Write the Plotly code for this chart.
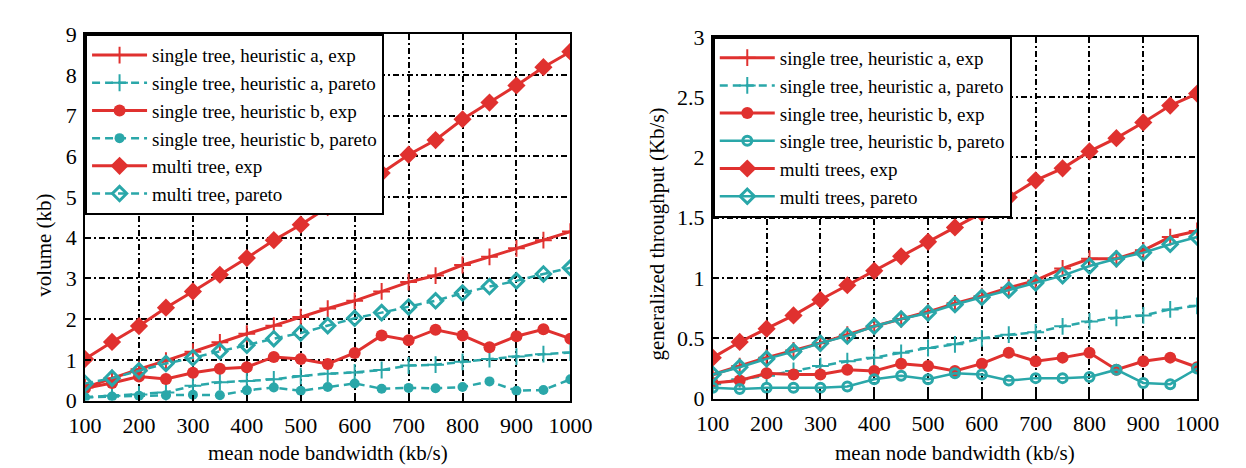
import plotly.graph_objects as go

# ---------------- data ----------------
bandwidth = [100, 150, 200, 250, 300, 350, 400, 450, 500, 550, 600, 650, 700, 750, 800, 850, 900, 950, 1000]

# left panel: volume (kb)
vol_a_exp    = [0.32, 0.55, 0.77, 0.98, 1.20, 1.43, 1.64, 1.84, 2.05, 2.26, 2.45, 2.68, 2.91, 3.07, 3.33, 3.53, 3.74, 3.94, 4.15]
vol_a_pareto = [0.08, 0.12, 0.15, 0.20, 0.36, 0.45, 0.48, 0.52, 0.60, 0.66, 0.69, 0.75, 0.86, 0.88, 0.95, 1.02, 1.08, 1.14, 1.18]
vol_b_exp    = [0.30, 0.43, 0.59, 0.53, 0.68, 0.78, 0.82, 1.07, 1.02, 0.90, 1.17, 1.60, 1.48, 1.74, 1.60, 1.31, 1.58, 1.75, 1.52]
vol_b_pareto = [0.08, 0.10, 0.12, 0.13, 0.14, 0.13, 0.25, 0.32, 0.24, 0.33, 0.42, 0.29, 0.31, 0.30, 0.33, 0.47, 0.24, 0.26, 0.52]
vol_m_exp    = [1.02, 1.44, 1.83, 2.28, 2.68, 3.09, 3.50, 3.94, 4.32, 4.75, 5.16, 5.59, 6.04, 6.40, 6.91, 7.32, 7.74, 8.19, 8.57]
vol_m_pareto = [0.42, 0.55, 0.73, 0.91, 1.05, 1.21, 1.36, 1.52, 1.66, 1.84, 2.02, 2.16, 2.30, 2.45, 2.64, 2.80, 2.94, 3.11, 3.26]

# right panel: generalized throughput (Kb/s)
thr_a_exp    = [0.20, 0.27, 0.34, 0.40, 0.46, 0.53, 0.60, 0.66, 0.72, 0.79, 0.85, 0.92, 0.98, 1.08, 1.16, 1.16, 1.23, 1.34, 1.39]
thr_a_pareto = [0.12, 0.16, 0.19, 0.23, 0.27, 0.31, 0.34, 0.38, 0.42, 0.45, 0.50, 0.53, 0.55, 0.60, 0.64, 0.67, 0.69, 0.74, 0.77]
thr_b_exp    = [0.13, 0.15, 0.21, 0.20, 0.20, 0.24, 0.23, 0.29, 0.27, 0.23, 0.29, 0.38, 0.31, 0.34, 0.38, 0.24, 0.31, 0.34, 0.26]
thr_b_pareto = [0.09, 0.08, 0.09, 0.09, 0.09, 0.10, 0.16, 0.19, 0.16, 0.21, 0.20, 0.15, 0.17, 0.17, 0.18, 0.24, 0.13, 0.12, 0.25]
thr_m_exp    = [0.34, 0.47, 0.58, 0.69, 0.82, 0.94, 1.06, 1.18, 1.30, 1.42, 1.54, 1.67, 1.81, 1.91, 2.05, 2.16, 2.29, 2.43, 2.53]
thr_m_pareto = [0.20, 0.26, 0.33, 0.39, 0.46, 0.52, 0.60, 0.66, 0.71, 0.78, 0.84, 0.90, 0.96, 1.02, 1.10, 1.16, 1.21, 1.28, 1.34]

left_names = ["single tree, heuristic a, exp", "single tree, heuristic a, pareto",
              "single tree, heuristic b, exp", "single tree, heuristic b, pareto",
              "multi tree, exp", "multi tree, pareto"]
right_names = ["single tree, heuristic a, exp", "single tree, heuristic a, pareto",
               "single tree, heuristic b, exp", "single tree, heuristic b, pareto",
               "multi trees, exp", "multi trees, pareto"]

x_ticks = [100, 200, 300, 400, 500, 600, 700, 800, 900, 1000]
left_yticks = [0, 1, 2, 3, 4, 5, 6, 7, 8, 9]
right_yticks = [0, 0.5, 1, 1.5, 2, 2.5, 3]
right_yticklabels = ["0", "0.5", "1", "1.5", "2", "2.5", "3"]

# ---------------- styling ----------------
RED = "#e0312f"
TEAL = "#2aa7a9"
FONT = "Liberation Serif, Times New Roman, serif"
W, H = 1246, 468

def px_x(p):
    return p / W

def px_y(p):
    return 1 - p / H

fig = go.Figure()

def add(x, y, name, color, symbol, dash, xa, ya, leg, open_marker=False, size=11):
    marker = dict(symbol=symbol, size=size, color=color)
    if open_marker:
        marker["line"] = dict(color=color, width=3)
    elif "cross" in symbol:
        marker["line"] = dict(color=color, width=2)
    fig.add_trace(go.Scatter(
        x=x, y=y, name=name, mode="lines+markers",
        line=dict(color=color, width=3 if color == RED else 2.5, dash=dash),
        marker=marker, xaxis=xa, yaxis=ya, legend=leg))

TDASH = "8px,5px"
left_series = [
    (vol_a_exp, RED, "cross-thin", "solid", False, 12),
    (vol_a_pareto, TEAL, "cross-thin", TDASH, False, 12),
    (vol_b_exp, RED, "circle", "solid", False, 12),
    (vol_b_pareto, TEAL, "circle", TDASH, False, 10),
    (vol_m_exp, RED, "diamond", "solid", False, 14),
    (vol_m_pareto, TEAL, "diamond-open", TDASH, True, 11),
]
right_series = [
    (thr_a_exp, RED, "cross-thin", "solid", False, 12),
    (thr_a_pareto, TEAL, "cross-thin", TDASH, False, 12),
    (thr_b_exp, RED, "circle", "solid", False, 12),
    (thr_b_pareto, TEAL, "circle-open", "solid", True, 9),
    (thr_m_exp, RED, "diamond", "solid", False, 14),
    (thr_m_pareto, TEAL, "diamond-open", "solid", True, 11),
]
for name, (y, c, s, d, o, sz) in zip(left_names, left_series):
    add(bandwidth, y, name, c, s, d, "x", "y", "legend", o, sz)
for name, (y, c, s, d, o, sz) in zip(right_names, right_series):
    add(bandwidth, y, name, c, s, d, "x2", "y2", "legend2", o, sz)

axis_common = dict(
    showline=True, linecolor="black", linewidth=2, mirror=True,
    showgrid=True, gridcolor="black", gridwidth=2, griddash="6px,3px,2px,3px",
    ticks="inside", ticklen=6, tickwidth=2, tickcolor="black",
    zeroline=False, tickfont=dict(family=FONT, size=22, color="black"),
)

L_dom = [px_x(62), px_x(563)]
R_dom = [px_x(710), px_x(1210)]
L_ydom = [px_y(402), px_y(15)]
R_ydom = [px_y(400), px_y(17.8)]

fig.update_layout(
    width=W, height=H, margin=dict(l=0, r=0, t=0, b=0),
    paper_bgcolor="white", plot_bgcolor="white",
    font=dict(family=FONT, color="black"),
    xaxis=dict(domain=L_dom, range=[100, 1000], tickvals=x_ticks, anchor="y",
               ticklabelstandoff=4, **axis_common),
    yaxis=dict(domain=L_ydom, range=[0, 9], tickvals=left_yticks, anchor="x",
               ticklabelstandoff=2, **axis_common),
    xaxis2=dict(domain=R_dom, range=[100, 1000], tickvals=x_ticks, anchor="y2",
                ticklabelstandoff=4, **axis_common),
    yaxis2=dict(domain=R_ydom, range=[0, 3], tickvals=right_yticks, ticktext=right_yticklabels,
                anchor="x2", ticklabelstandoff=2, **axis_common),
    legend=dict(x=L_dom[0], y=L_ydom[1], xanchor="left", yanchor="top",
                bgcolor="white", bordercolor="black", borderwidth=2,
                font=dict(family=FONT, size=19, color="black"), itemwidth=55,
                tracegroupgap=0),
    legend2=dict(x=R_dom[0], y=R_ydom[1], xanchor="left", yanchor="top",
                 bgcolor="white", bordercolor="black", borderwidth=2,
                 font=dict(family=FONT, size=19, color="black"), itemwidth=55,
                 tracegroupgap=0),
    showlegend=True,
)

ann_font = dict(family=FONT, size=21, color="black")
for xc in [(L_dom[0] + L_dom[1]) / 2, (R_dom[0] + R_dom[1]) / 2]:
    fig.add_annotation(text="mean node bandwidth (kb/s)", x=xc, y=px_y(457),
                       xanchor="center", yanchor="middle",
                       xref="paper", yref="paper", showarrow=False, font=ann_font)
fig.add_annotation(text="volume (kb)", x=px_x(20), y=px_y(238), textangle=-90,
                   xanchor="center", yanchor="middle",
                   xref="paper", yref="paper", showarrow=False, font=ann_font)
fig.add_annotation(text="generalized throughput (Kb/s)", x=px_x(652), y=px_y(226), textangle=-90,
                   xanchor="center", yanchor="middle",
                   xref="paper", yref="paper", showarrow=False, font=ann_font)

fig.write_html("out.html")
